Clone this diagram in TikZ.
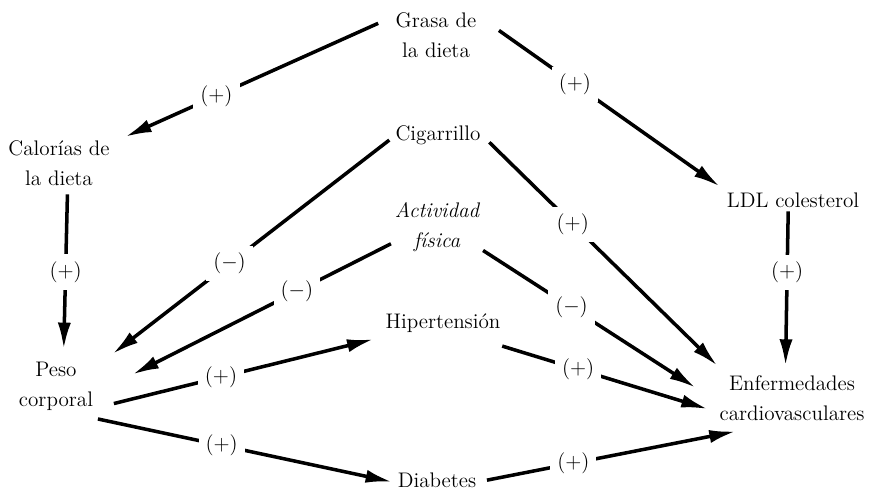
\documentclass[tikz,border=0pt]{standalone}
\usepackage{amsmath}
\usepackage{tikz}
\usetikzlibrary{arrows.meta}

\begin{document}
\begin{tikzpicture}
          \tikzset{
            vertex/.style={align=center, inner sep=2pt, font=\fontsize{12}{17}\selectfont},
            edge/.style={->,> = {Latex[length=15pt,width=7.5pt]}, line width=2pt},
            sign/.style={fill=white, inner sep=4pt, font=\fontsize{12}{14}\selectfont}
          }
          \useasboundingbox (0,0) rectangle (17.38,-9.80);
          % vertices
          \node[vertex] (grasa) at (8.72,-0.70) {Grasa de\\la dieta};
          \node[vertex] (calorias) at (1.18,-3.26) {Calorías de\\la dieta};
          \node[vertex] (cig) at (8.76,-2.70) {Cigarrillo};
          \node[vertex] (act) at (8.74,-4.54) {\itshape Actividad\\\itshape física};
          \node[vertex] (ldl) at (15.86,-4.00) {LDL colesterol};
          \node[vertex] (peso) at (1.12,-7.72) {Peso\\corporal};
          \node[vertex] (hip) at (8.86,-6.46) {Hipertensión};
          \node[vertex] (enf) at (15.84,-7.96) {Enfermedades\\cardiovasculares};
          \node[vertex] (diab) at (8.74,-9.60) {Diabetes};

          %edges
          \draw[edge, shorten <=0.30cm, shorten >=0.26cm] (grasa.158) -- node[sign, pos=0.63] {$(+)$} (calorias.21);
          \draw[edge, shorten <=0.46cm, shorten >=0.08cm] (grasa.22) -- node[sign, pos=0.39] {$(+)$} (ldl.north west);
          \draw[edge, shorten <=0.10cm, shorten >=0.18cm] (calorias.-72) -- node[sign, pos=0.49] {$(+)$} (peso.75);
          \draw[edge, shorten >=0.12cm] (ldl.-113) -- node[sign, pos=0.38] {$(+)$} (enf.104);
          \draw[edge, shorten <=0.06cm, shorten >=0.40cm] (cig.184) -- node[sign, pos=0.55] {$(-)$} (peso.26);
          \draw[edge, shorten <=0.14cm, shorten >=0.17cm] (cig.-3) -- node[sign, pos=0.37] {$(+)$} (enf.159);
          \draw[edge, shorten >=0.80cm] (act.200) -- node[sign, pos=0.32] {$(-)$} (peso.-9);
          \draw[edge, shorten >=0.48cm] (act.-27) -- node[sign, pos=0.38] {$(-)$} (enf.182);
          \draw[edge, shorten <=0.35cm, shorten >=0.25cm] (peso.-28) -- node[sign, pos=0.43] {$(+)$} (hip.193);
          \draw[edge, shorten <=0.67cm, shorten >=0.17cm] (hip.-26) -- node[sign, pos=0.44] {$(+)$} (enf.190);
          \draw[edge, shorten <=0.47cm, shorten >=0.04cm] (peso.-56) -- node[sign, pos=0.46] {$(+)$} (diab.183);
          \draw[edge, shorten <=0.14cm, shorten >=0.73cm] (diab.-2) -- node[sign, pos=0.32] {$(+)$} (enf.232);
\end{tikzpicture}
\end{document}
